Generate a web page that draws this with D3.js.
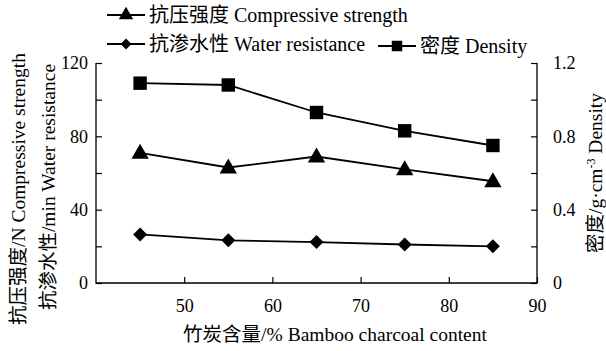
<!DOCTYPE html>
<html>
<head>
<meta charset="utf-8">
<script src="https://cdn.jsdelivr.net/npm/d3@7"></script>
<style>
  body { margin: 0; background: #fff; }
  svg text { font-family: "Liberation Serif", "Times New Roman", "Noto Sans CJK SC", serif; fill: #000; }
</style>
</head>
<body>
<svg id="chart" width="606" height="351"></svg>
<script>
// Bamboo charcoal content (%)
const content = [45, 55, 65, 75, 85];
// Compressive strength (N)
const compressive = [71, 63, 69, 62, 55.5];
// Water resistance (min)
const water = [26.5, 23.3, 22.3, 21, 20];
// Density (g·cm-3)
const density = [1.09, 1.08, 0.93, 0.83, 0.75];

const xTicks = [50, 60, 70, 80, 90];
const yLeftTicks = [0, 40, 80, 120];
const yRightTicks = [0, 0.4, 0.8, 1.2];

const serif = '"Liberation Serif", "Times New Roman", "Noto Sans CJK SC", serif';
const svg = d3.select("#chart");
const plotLeft = 96, plotRight = 537, plotTop = 63, plotBottom = 283;

const x = d3.scaleLinear().domain([40, 90]).range([plotLeft, plotRight]);
const yL = d3.scaleLinear().domain([0, 120]).range([plotBottom, plotTop]);
const yR = d3.scaleLinear().domain([0, 1.2]).range([plotBottom, plotTop]);

const tickFont = 18;
const labelFont = 19.5;
const legendFont = 20;

// frame lines: left, bottom, right axes
const axisG = svg.append("g").attr("stroke", "#000").attr("stroke-width", 1.3).attr("fill", "none");
axisG.append("path").attr("d", `M${plotLeft},${plotTop}V${plotBottom}H${plotRight}V${plotTop}`);

// x axis ticks (inward)
const gx = svg.append("g").attr("transform", `translate(0,${plotBottom})`)
  .call(d3.axisBottom(x).tickValues(xTicks).tickSize(-6).tickFormat(d3.format("d")));
gx.attr("font-family", serif);
gx.select(".domain").remove();
gx.selectAll(".tick line").attr("stroke", "#000").attr("stroke-width", 1.2);
gx.selectAll(".tick text").attr("font-size", tickFont).attr("dy", "0.71em").attr("y", 16);

// left axis: minor ticks every 20, labels every 40
const gl = svg.append("g").attr("transform", `translate(${plotLeft},0)`)
  .call(d3.axisLeft(yL).tickValues(d3.range(0, 121, 20)).tickSize(-6).tickPadding(8)
    .tickFormat(d => yLeftTicks.includes(d) ? d : ""));
gl.attr("font-family", serif);
gl.select(".domain").remove();
gl.selectAll(".tick line").attr("stroke", "#000").attr("stroke-width", 1.2);
gl.selectAll(".tick text").attr("font-size", tickFont);

// right axis
const gr = svg.append("g").attr("transform", `translate(${plotRight},0)`)
  .call(d3.axisRight(yR).tickValues(d3.range(0, 13, 2).map(d => d / 10)).tickSize(-6).tickPadding(16)
    .tickFormat(d => yRightTicks.some(t => Math.abs(t - d) < 1e-9) ? (d === 0 ? "0" : d3.format(".1f")(d)) : ""));
gr.attr("font-family", serif);
gr.select(".domain").remove();
gr.selectAll(".tick line").attr("stroke", "#000").attr("stroke-width", 1.2);
gr.selectAll(".tick text").attr("font-size", tickFont);

// series
const lineOf = (scale, vals) => d3.line().x((d, i) => x(content[i])).y(d => scale(d))(vals);
const plot = svg.append("g");
[[yL, compressive], [yL, water], [yR, density]].forEach(([s, v]) => {
  plot.append("path").attr("d", lineOf(s, v)).attr("fill", "none").attr("stroke", "#000").attr("stroke-width", 1.8);
});

const tri = d3.symbol().type(d3.symbolTriangle).size(130);
const dia = d3.symbol().type(d3.symbolSquare).size(98);
const sq = d3.symbol().type(d3.symbolSquare).size(180);

plot.selectAll(".tri").data(compressive).join("path")
  .attr("d", tri).attr("transform", (d, i) => `translate(${x(content[i])},${yL(d) + 1})`);
plot.selectAll(".dia").data(water).join("path")
  .attr("d", dia).attr("transform", (d, i) => `translate(${x(content[i])},${yL(d)}) rotate(45)`);
plot.selectAll(".sq").data(density).join("path")
  .attr("d", sq).attr("transform", (d, i) => `translate(${x(content[i])},${yR(d)})`);

// legend
const legendTri = d3.symbol().type(d3.symbolTriangle).size(90);
const legendDia = d3.symbol().type(d3.symbolSquare).size(60);
const legendSq = d3.symbol().type(d3.symbolSquare).size(110);
function legendItem(lx, ly, sym, rot, label) {
  const g = svg.append("g").attr("transform", `translate(${lx},${ly})`);
  g.append("path").attr("d", "M0,0H38").attr("stroke", "#000").attr("stroke-width", 2).attr("fill", "none");
  g.append("path").attr("d", sym).attr("transform", `translate(19,0) rotate(${rot})`);
  g.append("text").attr("x", 42).attr("y", 0).attr("dy", "0.36em").attr("font-size", legendFont).text(label);
}
legendItem(107, 15, legendTri, 0, "抗压强度 Compressive strength");
legendItem(107, 44, legendDia, 45, "抗渗水性 Water resistance");
legendItem(378, 46, legendSq, 0, "密度 Density");

// axis titles
svg.append("text").attr("transform", "translate(25,189) rotate(-90)").attr("text-anchor", "middle")
  .attr("font-size", labelFont).text("抗压强度/N Compressive strength");
svg.append("text").attr("transform", "translate(55,187) rotate(-90)").attr("text-anchor", "middle")
  .attr("font-size", labelFont).text("抗渗水性/min Water resistance");

const rt = svg.append("text").attr("transform", "translate(602,173) rotate(-90)").attr("text-anchor", "middle")
  .attr("font-size", labelFont);
rt.append("tspan").text("密度/g·cm");
rt.append("tspan").attr("dy", -7).attr("font-size", 12).text("-3");
rt.append("tspan").attr("dy", 7).text(" Density");

svg.append("text").attr("x", 335).attr("y", 341).attr("text-anchor", "middle")
  .attr("font-size", labelFont).text("竹炭含量/% Bamboo charcoal content");
</script>
</body>
</html>
